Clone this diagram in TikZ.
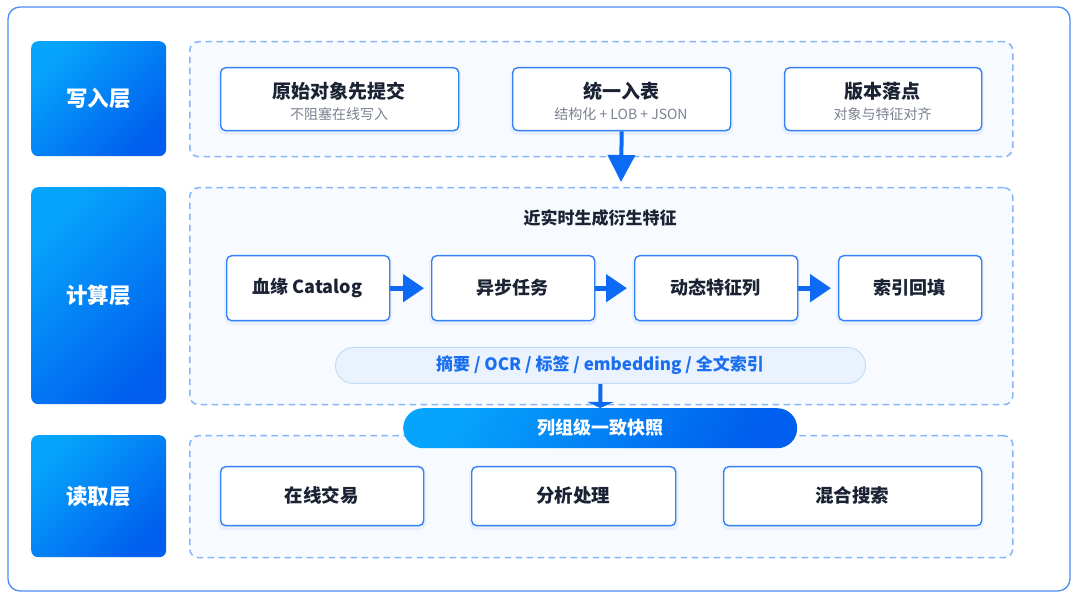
\documentclass[tikz,border=0pt]{standalone}
\usepackage{fontspec}
\setmainfont{Noto Sans CJK SC}
\usetikzlibrary{arrows.meta}
\definecolor{outerb}{HTML}{4B8DF8}
\definecolor{gradA}{HTML}{06A4FC}
\definecolor{gradB}{HTML}{005FEE}
\definecolor{dashb}{HTML}{86B6F8}
\definecolor{contf}{HTML}{F7FAFF}
\definecolor{boxb}{HTML}{3382F5}
\definecolor{arrowc}{HTML}{0D6AF5}
\definecolor{pillf}{HTML}{E9F2FD}
\definecolor{pillb}{HTML}{C5DBF6}
\definecolor{pillt}{HTML}{1A6EF0}
\definecolor{titlec}{HTML}{1A2233}
\definecolor{subc}{HTML}{7A8290}
\definecolor{shad}{HTML}{D6E4F8}
\begin{document}
\begin{tikzpicture}[x=1pt,y=-1pt,
  layer/.style={rounded corners=7pt, top color=gradA, bottom color=gradB, shading angle=45,
    draw=none, inner sep=0pt, anchor=north west, minimum width=135pt,
    text=white, font=\fontsize{21.5}{24}\selectfont\bfseries},
  cont/.style={draw=dashb, fill=contf, line width=1.5pt, dash pattern=on 6.5pt off 4.5pt,
    rounded corners=9pt, inner sep=0pt, anchor=north west, minimum width=823pt},
  box/.style={draw=boxb, fill=white, line width=1.4pt, rounded corners=5pt, inner sep=0pt,
    anchor=north west,
    preaction={draw=shad, line width=5pt, draw opacity=0.45, transform canvas={yshift=-2pt}}},
  ttl/.style={text=titlec, font=\fontsize{19}{22}\selectfont\bfseries, inner sep=0pt},
  sub/.style={text=subc, font=\fontsize{14}{16}\selectfont, inner sep=0pt},
  bigarrow/.style={draw=arrowc, line width=4pt, -{Triangle[length=27pt,width=27pt]}},
  smarrow/.style={draw=arrowc, line width=5pt, -{Triangle[length=21pt,width=27pt]}, shorten >=7pt},
]
\useasboundingbox (0,0) rectangle (1080,601);
% outer frame
\draw[draw=outerb, line width=1.3pt, fill=white, rounded corners=12pt] (8,7) rectangle (1070,591);

% layer labels
\node[layer, minimum height=115pt] (lw) at (31,41) {写入层};
\node[layer, minimum height=217pt] (lc) at (31,187) {计算层};
\node[layer, minimum height=122pt] (lr) at (31,435) {读取层};

% containers
\node[cont, minimum height=115pt] (kw) at (189,41) {};
\node[cont, minimum height=217pt] (kc) at (189,187) {};
\node[cont, minimum height=122pt] (kr) at (189,435) {};

% write layer boxes
\node[box, minimum width=238pt, minimum height=63pt] (w1) at (220,67) {};
\node[box, minimum width=218pt, minimum height=63pt] (w2) at (512,67) {};
\node[box, minimum width=197pt, minimum height=63pt] (w3) at (784,67) {};
\node[ttl] (w1t) at (339,91) {原始对象先提交};
\node[sub] (w1s) at (339,114) {不阻塞在线写入};
\node[ttl] (w2t) at (621,91) {统一入表};
\node[sub] (w2s) at (621,114) {结构化 + LOB + JSON};
\node[ttl] (w3t) at (882.5,91) {版本落点};
\node[sub] (w3s) at (882.5,114) {对象与特征对齐};

\coordinate (wtip) at (621,182);
\draw[bigarrow] (w2.south) -- (wtip);

% compute layer
\node[text=titlec, font=\fontsize{17}{20}\selectfont\bfseries, inner sep=0pt] (ct) at (600,218) {近实时生成衍生特征};
\node[box, minimum width=163pt, minimum height=65pt] (c1) at (226,255) {};
\node[box, minimum width=163pt, minimum height=65pt] (c2) at (431,255) {};
\node[box, minimum width=163pt, minimum height=65pt] (c3) at (634,255) {};
\node[box, minimum width=143pt, minimum height=65pt] (c4) at (838,255) {};
\node[ttl, font=\fontsize{18}{21}\selectfont\bfseries] (c1t) at (307.5,288) {血缘 Catalog};
\node[ttl, font=\fontsize{18}{21}\selectfont\bfseries] (c2t) at (512.5,288) {异步任务};
\node[ttl, font=\fontsize{18}{21}\selectfont\bfseries] (c3t) at (715.5,288) {动态特征列};
\node[ttl, font=\fontsize{18}{21}\selectfont\bfseries] (c4t) at (909.5,288) {索引回填};
\draw[smarrow] (c1.east) -- (c2.west);
\draw[smarrow] (c2.east) -- (c3.west);
\draw[smarrow] (c3.east) -- (c4.west);

\node[draw=pillb, fill=pillf, line width=1pt, rounded corners=18pt, inner sep=0pt,
  anchor=north west, minimum width=530pt, minimum height=36pt] (pill) at (335,347) {};
\node[text=pillt, font=\fontsize{17}{19}\selectfont\bfseries, inner sep=0pt] (pillt) at (600,365)
  {摘要 / OCR / 标签 / embedding / 全文索引};

% read layer boxes
\node[box, minimum width=203pt, minimum height=59pt] (r1) at (220,466) {};
\node[box, minimum width=204pt, minimum height=59pt] (r2) at (471,466) {};
\node[box, minimum width=258pt, minimum height=59pt] (r3) at (723,466) {};
\node[ttl, font=\fontsize{18.5}{21}\selectfont\bfseries] (r1t) at (321.5,495.5) {在线交易};
\node[ttl, font=\fontsize{18.5}{21}\selectfont\bfseries] (r2t) at (573,495.5) {分析处理};
\node[ttl, font=\fontsize{18.5}{21}\selectfont\bfseries] (r3t) at (852,495.5) {混合搜索};

% snapshot
\node[rounded corners=20pt, top color=gradA, bottom color=gradB, shading angle=60, inner sep=0pt,
  anchor=north west, minimum width=394pt, minimum height=40pt] (snap) at (403,408) {};
\node[text=white, font=\fontsize{18}{21}\selectfont\bfseries, inner sep=0pt] (snapt) at (600,428) {列组级一致快照};
\draw[draw=arrowc, line width=4pt, -{Triangle[length=6pt,width=26pt]}] (pill.south) -- (snap.north);
\end{tikzpicture}
\end{document}
